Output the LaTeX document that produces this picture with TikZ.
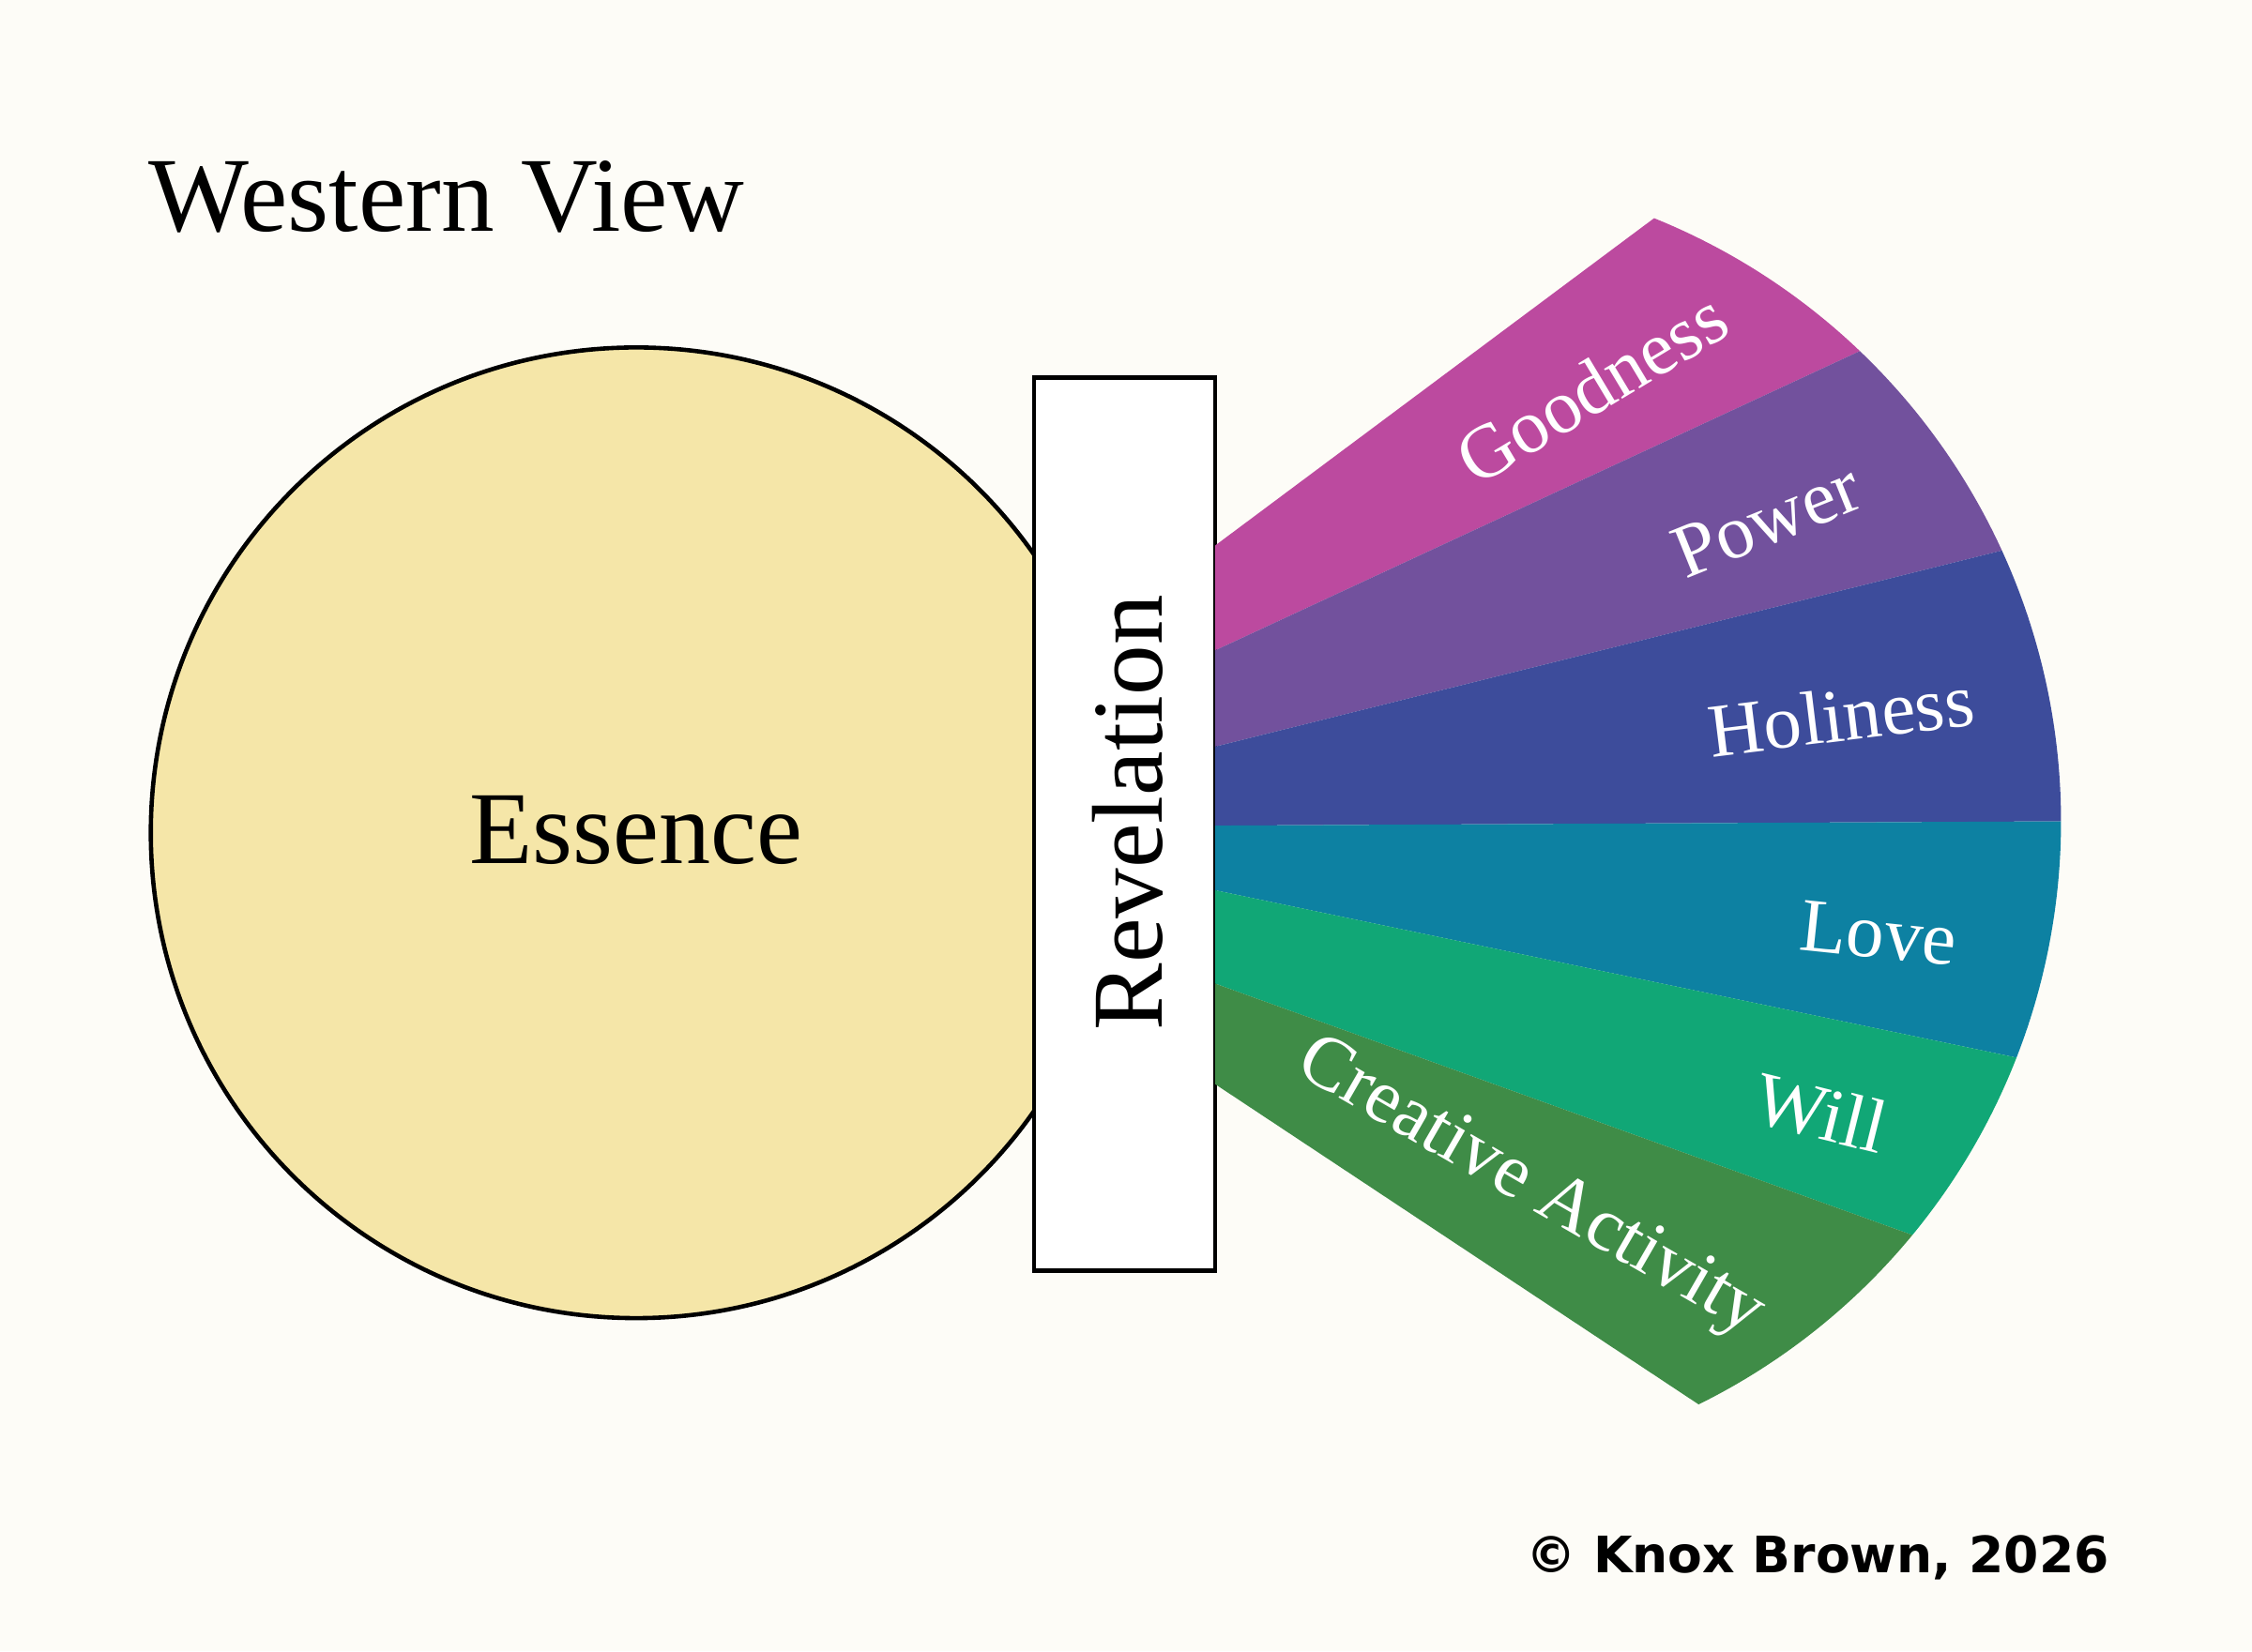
\documentclass[tikz,border=0pt]{standalone}
\usepackage{fontspec}
\setmainfont{Liberation Serif}
\newfontfamily\cpfont{DejaVu Sans}
\usetikzlibrary{calc}
\definecolor{bg}{HTML}{FDFCF7}
\definecolor{ess}{HTML}{F5E6A8}
\definecolor{cG}{HTML}{BC4A9F}
\definecolor{cP}{HTML}{72519D}
\definecolor{cH}{HTML}{3D4C9B}
\definecolor{cL}{HTML}{0D81A2}
\definecolor{cW}{HTML}{11A776}
\definecolor{cC}{HTML}{3F8C47}
\begin{document}
\begin{tikzpicture}[x=1pt,y=1pt,
  lab/.style={text=white,font=\fontsize{53}{53}\selectfont,inner sep=0}]
\fill[bg] (0,0) rectangle (1568,1150);
\useasboundingbox (0,0) rectangle (1568,1150);
\node[anchor=west,font=\fontsize{74}{74}\selectfont] (title) at (100,1013) {Western View};
\node[circle,draw=black,line width=3pt,fill=ess,minimum size=676pt,inner sep=0] (ess) at (443,570) {};
\node[font=\fontsize{72}{72}\selectfont] (esst) at (443,572) {Essence};
\node[draw=black,line width=3pt,fill=white,minimum width=126pt,minimum height=622pt,inner sep=0] (rev) at (783,576) {};
\node[rotate=90,font=\fontsize{70}{70}\selectfont] (revt) at (785,584) {Revelation};
\coordinate (C) at (982,578);
\def\R{453}
\def\wedge#1#2#3#4#5{\fill[#1] (846,{1150-#2}) -- ($(C)+(#4:\R)$) arc[start angle=#4,end angle=#5,radius=\R] -- (846,{1150-#3}) -- cycle;}
\wedge{cG}{380}{453}{68}{46.3}
\wedge{cP}{453}{520}{46.3}{24.6}
\wedge{cH}{520}{575}{24.6}{0}
\wedge{cL}{575}{620}{0}{-21.3}
\wedge{cW}{620}{685}{-21.3}{-39.5}
\wedge{cC}{685}{755}{-39.5}{-63.7}
\node[lab,rotate=31] (g) at (1108,880) {Goodness};
\node[lab,rotate=22] (p) at (1230,788) {Power};
\node[lab,rotate=7] (h) at (1282,652) {Holiness};
\node[lab,rotate=-6] (l) at (1308,500) {Love};
\node[lab,rotate=-14] (w) at (1268,375) {Will};
\node[lab,rotate=-30] (c) at (1065,322) {Creative Activity};
\node[anchor=east,font=\cpfont\bfseries\fontsize{35}{35}\selectfont] (cp) at (1472,65) {© Knox Brown, 2026};
\end{tikzpicture}
\end{document}
